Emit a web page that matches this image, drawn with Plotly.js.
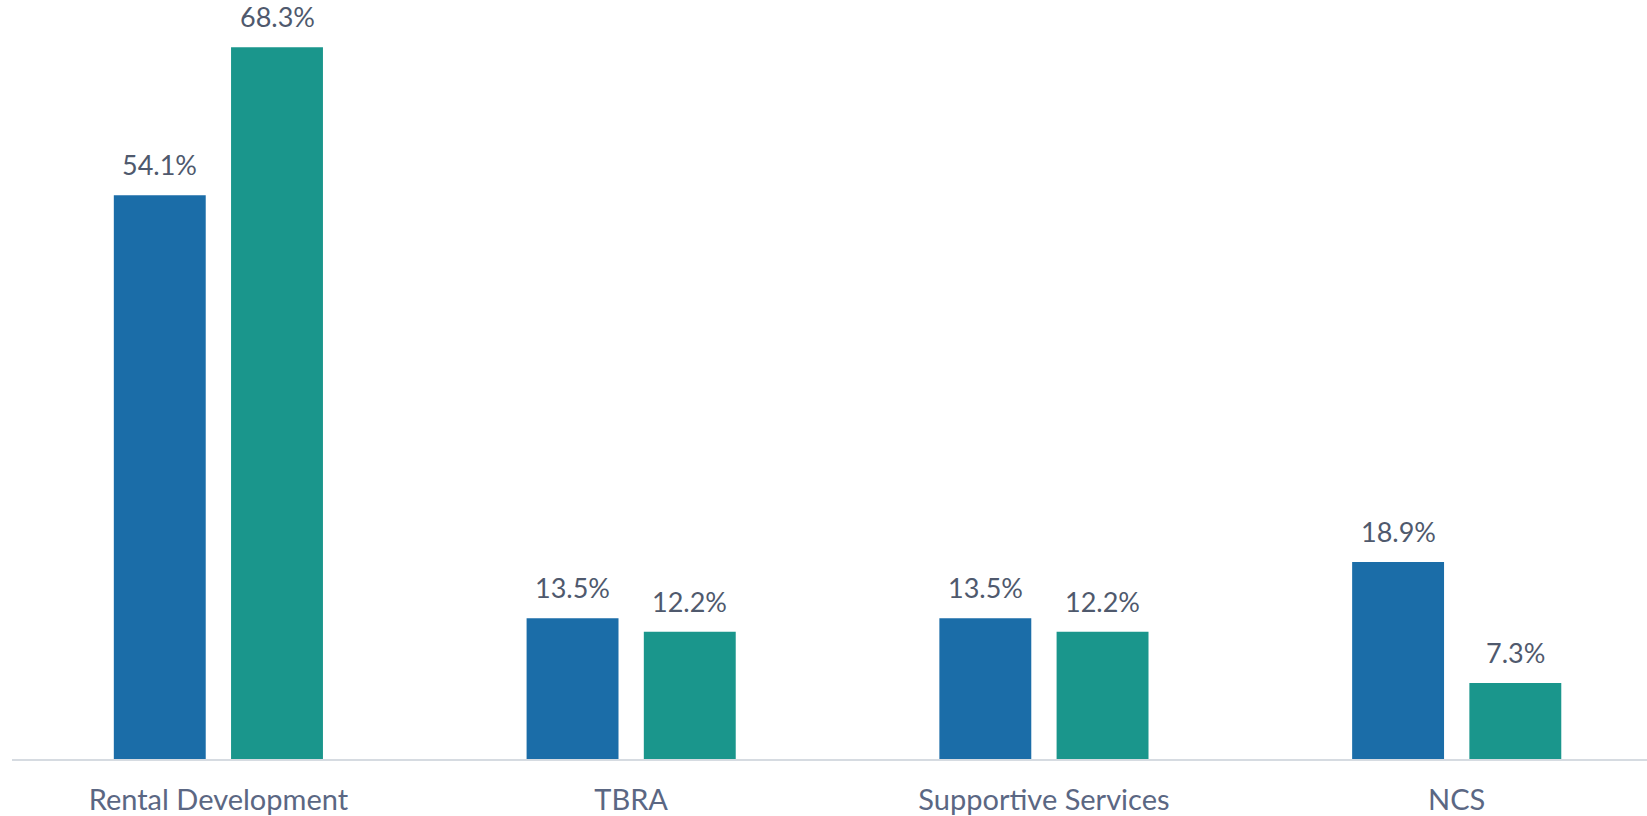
<!DOCTYPE html>
<html>
<head>
<meta charset="utf-8">
<script src="https://cdn.plot.ly/plotly-3.0.1.min.js"></script>
<style>html,body{margin:0;padding:0;background:#fff;}#chart{width:1647px;height:816px;}</style>
</head>
<body>
<div id="chart"></div>
<script>
const categories = ["Rental Development", "TBRA", "Supportive Services", "NCS"];
const seriesA = [54.1, 13.5, 13.5, 18.9];
const seriesB = [68.3, 12.2, 12.2, 7.3];
const colorA = "#1b6da8";
const colorB = "#1a968c";

const bargap = 0.432;
const bargroupgap = 0.216;
const slot = (1 - bargap) / 2;

const traces = [
  {type: "bar", x: categories, y: seriesA, marker: {color: colorA}, hoverinfo: "none", name: "A"},
  {type: "bar", x: categories, y: seriesB, marker: {color: colorB}, hoverinfo: "none", name: "B"}
];

const annotations = [];
[seriesA, seriesB].forEach((s, si) => {
  s.forEach((v, i) => {
    annotations.push({
      x: i + (si === 0 ? -slot / 2 : slot / 2),
      y: v, xref: "x", yref: "y",
      text: v.toFixed(1) + "%",
      showarrow: false, yanchor: "bottom", xanchor: "center", yshift: 12,
      font: {family: "Lato, sans-serif", size: 27, color: "#4f596d"}
    });
  });
});

const layout = {
  width: 1647, height: 816,
  margin: {l: 12, r: 0, t: 0, b: 57},
  paper_bgcolor: "#ffffff", plot_bgcolor: "#ffffff",
  showlegend: false,
  barmode: "group", bargap: bargap, bargroupgap: bargroupgap,
  xaxis: {
    type: "category", range: [-0.5, 3.461],
    showline: true, linecolor: "#d6dbe1", linewidth: 2,
    showgrid: false, zeroline: false, ticks: "",
    ticklabelstandoff: 14,
    tickfont: {family: "Lato, sans-serif", size: 29, color: "#5b6783"}
  },
  yaxis: {range: [0, 72.84], visible: false, showgrid: false, zeroline: false},
  annotations: annotations
};

Plotly.newPlot("chart", traces, layout, {staticPlot: true, displayModeBar: false});
</script>
</body>
</html>
